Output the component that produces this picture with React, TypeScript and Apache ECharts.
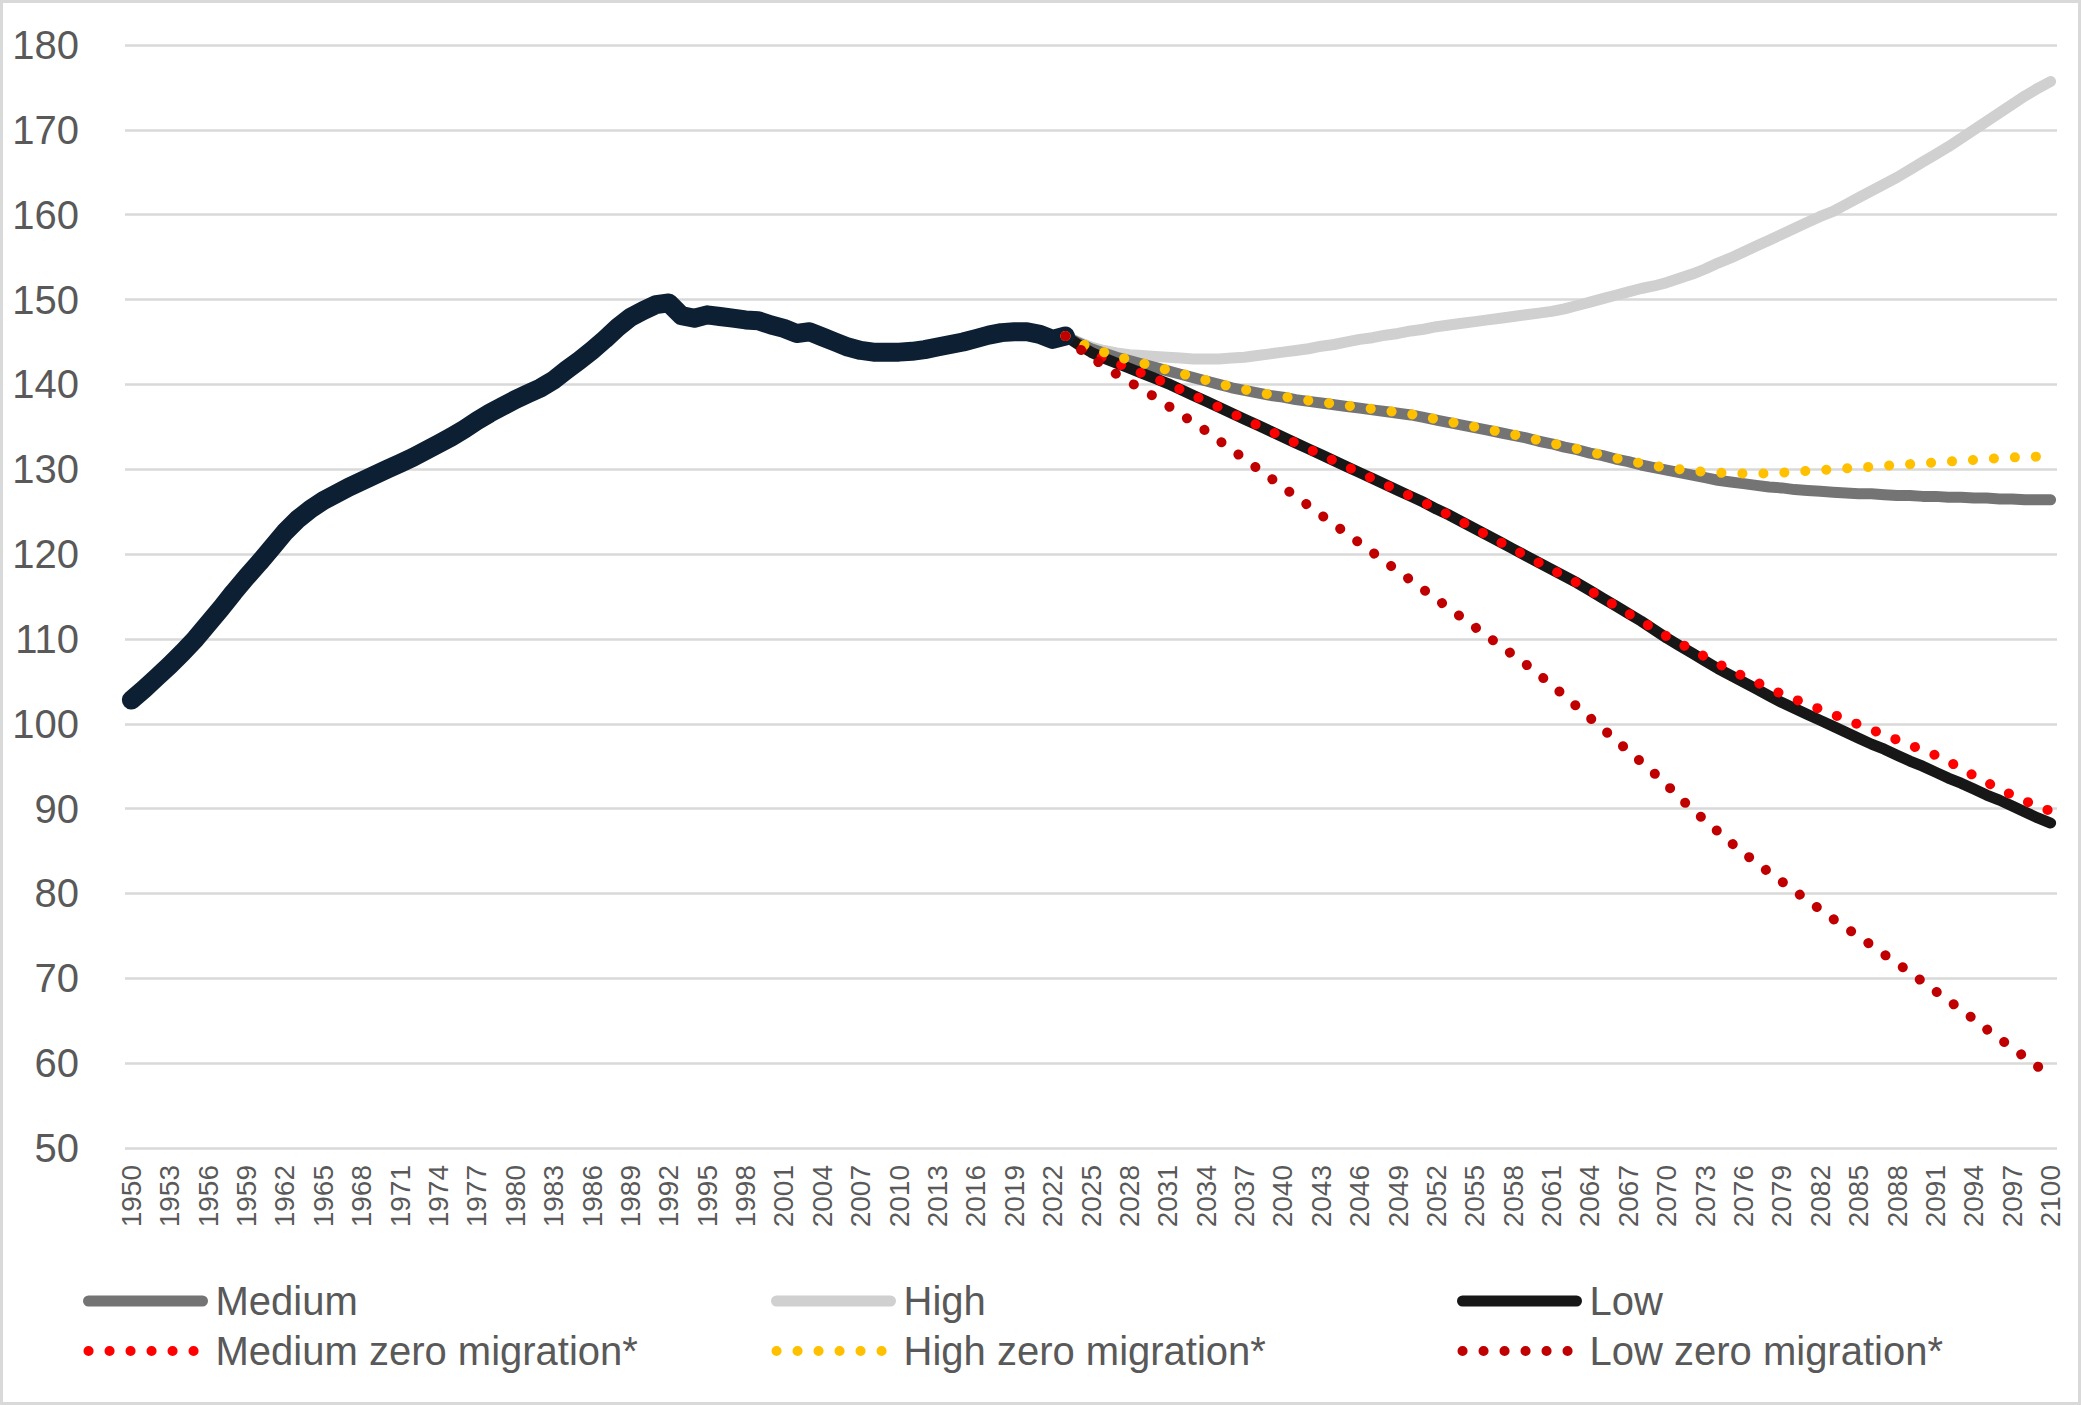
import React, { useEffect, useRef } from "react";
import * as echarts from "echarts";

// Categories: every year from 1950 to 2100
const years: string[] = Array.from({ length: 151 }, (_, i) => String(1950 + i));

// Y-axis ticks
const yMin = 50;
const yMax = 180;
const yStep = 10;

// Estimates 1950–2023
const historicalStart = 1950;
const historical = [
  102.8, 104.1, 105.5, 106.9, 108.4, 110.0, 111.8, 113.6, 115.5, 117.3,
  119.0, 120.8, 122.6, 124.1, 125.3, 126.3, 127.1, 127.9, 128.6, 129.3,
  130.0, 130.7, 131.4, 132.2, 133.0, 133.8, 134.7, 135.7, 136.6, 137.4,
  138.2, 138.9, 139.6, 140.5, 141.7, 142.8, 144.0, 145.3, 146.7, 147.9,
  148.7, 149.4, 149.6, 148.1, 147.8, 148.2, 148.0, 147.8, 147.6, 147.5,
  147.0, 146.6, 146.0, 146.2, 145.6, 145.0, 144.4, 144.0, 143.8, 143.8,
  143.8, 143.9, 144.1, 144.4, 144.7, 145.0, 145.4, 145.8, 146.1, 146.2,
  146.2, 145.9, 145.3, 145.7,
];

// Projections 2023–2100
const projectionStart = 2023;
const medium = [
  145.7, 144.9, 144.2, 143.7, 143.2, 142.8, 142.4, 142.0, 141.6, 141.2,
  140.8, 140.4, 140.0, 139.6, 139.3, 139.0, 138.7, 138.5, 138.2, 138.0,
  137.8, 137.6, 137.4, 137.2, 137.0, 136.8, 136.6, 136.4, 136.1, 135.8,
  135.5, 135.2, 134.9, 134.6, 134.3, 134.0, 133.7, 133.3, 133.0, 132.6,
  132.3, 131.9, 131.6, 131.2, 130.9, 130.5, 130.2, 129.9, 129.6, 129.3,
  129.0, 128.7, 128.5, 128.3, 128.1, 127.9, 127.8, 127.6, 127.5, 127.4,
  127.3, 127.2, 127.1, 127.1, 127.0, 126.9, 126.9, 126.8, 126.8, 126.7,
  126.7, 126.6, 126.6, 126.5, 126.5, 126.4, 126.4, 126.4,
];
const high = [
  145.7, 145.0, 144.4, 144.0, 143.7, 143.5, 143.4, 143.3, 143.2, 143.1,
  143.0, 143.0, 143.0, 143.1, 143.2, 143.4, 143.6, 143.8, 144.0, 144.2,
  144.5, 144.7, 145.0, 145.3, 145.5, 145.8, 146.0, 146.3, 146.5, 146.8,
  147.0, 147.2, 147.4, 147.6, 147.8, 148.0, 148.2, 148.4, 148.6, 148.9,
  149.3, 149.7, 150.1, 150.5, 150.9, 151.3, 151.6, 152.0, 152.5, 153.0,
  153.6, 154.3, 154.9, 155.6, 156.3, 157.0, 157.7, 158.4, 159.1, 159.8,
  160.4, 161.2, 162.0, 162.8, 163.6, 164.4, 165.3, 166.2, 167.1, 168.0,
  169.0, 170.0, 171.0, 172.0, 173.0, 174.0, 174.9, 175.7,
];
const low = [
  145.7, 144.7, 143.8, 143.1, 142.5, 141.9, 141.3, 140.7, 140.1, 139.4,
  138.7, 138.0, 137.3, 136.6, 135.9, 135.2, 134.5, 133.8, 133.1, 132.4,
  131.7, 131.0, 130.3, 129.6, 128.9, 128.2, 127.5, 126.8, 126.1, 125.3,
  124.6, 123.8, 123.0, 122.2, 121.4, 120.6, 119.8, 119.0, 118.2, 117.4,
  116.6, 115.7, 114.8, 113.9, 113.0, 112.1, 111.1, 110.1, 109.2, 108.3,
  107.4, 106.5, 105.7, 104.9, 104.1, 103.3, 102.5, 101.8, 101.1, 100.4,
  99.7, 99.0, 98.3, 97.6, 97.0, 96.3, 95.6, 95.0, 94.3, 93.6,
  93.0, 92.3, 91.6, 91.0, 90.3, 89.6, 88.9, 88.3,
];
const mediumZero = [
  145.7, 144.7, 143.8, 143.1, 142.5, 141.9, 141.3, 140.7, 140.1, 139.4,
  138.7, 138.0, 137.3, 136.6, 135.9, 135.2, 134.5, 133.8, 133.1, 132.4,
  131.7, 131.0, 130.3, 129.6, 128.9, 128.2, 127.5, 126.8, 126.1, 125.3,
  124.6, 123.8, 123.0, 122.2, 121.4, 120.6, 119.8, 119.0, 118.2, 117.4,
  116.6, 115.7, 114.8, 113.9, 113.0, 112.1, 111.2, 110.3, 109.5, 108.7,
  107.9, 107.1, 106.3, 105.6, 104.9, 104.2, 103.5, 102.9, 102.3, 101.7,
  101.1, 100.5, 99.9, 99.3, 98.7, 98.1, 97.5, 96.9, 96.3, 95.6,
  94.7, 93.9, 93.1, 92.3, 91.6, 90.9, 90.3, 89.7,
];
const highZero = [
  145.7, 145.0, 144.3, 143.8, 143.3, 142.9, 142.5, 142.1, 141.7, 141.3,
  140.9, 140.5, 140.1, 139.7, 139.4, 139.1, 138.8, 138.6, 138.3, 138.1,
  137.9, 137.7, 137.5, 137.3, 137.1, 136.9, 136.7, 136.5, 136.2, 135.9,
  135.6, 135.3, 135.0, 134.7, 134.4, 134.1, 133.8, 133.4, 133.1, 132.7,
  132.4, 132.0, 131.7, 131.3, 131.0, 130.7, 130.4, 130.2, 130.0, 129.8,
  129.7, 129.6, 129.5, 129.5, 129.5, 129.5, 129.6, 129.7, 129.8, 129.9,
  130.0, 130.1, 130.2, 130.3, 130.4, 130.5, 130.6, 130.7, 130.8, 130.9,
  131.0, 131.1, 131.2, 131.3, 131.4, 131.4, 131.5, 131.6,
];
const lowZero = [
  145.7, 144.3, 143.2, 142.2, 141.2, 140.3, 139.4, 138.5, 137.5, 136.5,
  135.5, 134.5, 133.4, 132.3, 131.2, 130.1, 129.0, 127.9, 126.8, 125.7,
  124.6, 123.5, 122.4, 121.3, 120.2, 119.1, 118.0, 116.9, 115.8, 114.7,
  113.6, 112.5, 111.4, 110.3, 109.2, 108.1, 107.0, 105.8, 104.6, 103.3,
  102.0, 100.7, 99.4, 98.1, 96.8, 95.5, 94.2, 92.8, 91.3, 89.9,
  88.6, 87.3, 86.0, 84.8, 83.6, 82.5, 81.4, 80.3, 79.2, 78.1,
  77.0, 76.0, 74.9, 73.9, 72.8, 71.8, 70.7, 69.6, 68.5, 67.4,
  66.3, 65.2, 64.0, 62.9, 61.8, 60.7, 59.6, 58.6,
];

const FONT = '"Liberation Sans", Arial, "DejaVu Sans", sans-serif';
const TEXT = "#595959";
const DOTS = [0.1, 20.9];

function pad(start: number, arr: number[]): (number | null)[] {
  const off = start - 1950;
  return years.map((_, i) => {
    const j = i - off;
    return j >= 0 && j < arr.length ? arr[j] : null;
  });
}

function lineSeries(name: string, start: number, arr: number[], color: string, width: number, dotted: boolean) {
  return {
    name,
    type: "line",
    data: pad(start, arr),
    symbol: "none",
    showSymbol: false,
    connectNulls: false,
    smooth: false,
    lineStyle: {
      color,
      width,
      type: dotted ? DOTS : "solid",
      cap: "round",
      join: "round",
    },
    itemStyle: { color },
    emphasis: { disabled: true },
  };
}

function legendCol(left: number, names: string[]) {
  return {
    show: true,
    orient: "vertical",
    left,
    top: 1281,
    padding: 0,
    itemWidth: 114,
    itemHeight: 40,
    itemGap: 10,
    selectedMode: false,
    data: names,
    itemStyle: { opacity: 0 },
    lineStyle: { width: "inherit", type: "inherit", cap: "round" },
    textStyle: {
      color: TEXT,
      fontSize: 40,
      fontFamily: FONT,
      lineHeight: 40,
      padding: [0, 0, 0, 8],
    },
  };
}

export default function App() {
  const ref = useRef<HTMLDivElement>(null);
  useEffect(() => {
    if (!ref.current) return;
    const chart = echarts.init(ref.current, null, { renderer: "svg" });
    chart.setOption({
      animation: false,
      backgroundColor: "#ffffff",
      textStyle: { fontFamily: FONT },
      grid: { left: 125, right: 24, top: 45, bottom: 257, containLabel: false },
      xAxis: {
        type: "category",
        data: years,
        boundaryGap: true,
        axisLine: { show: false },
        axisTick: { show: false },
        axisLabel: {
          interval: 2,
          rotate: 90,
          fontSize: 28,
          color: TEXT,
          fontFamily: FONT,
          margin: 17,
        },
        splitLine: { show: false },
      },
      yAxis: {
        type: "value",
        min: yMin,
        max: yMax,
        interval: yStep,
        axisLine: { show: false },
        axisTick: { show: false },
        axisLabel: { fontSize: 40, color: TEXT, fontFamily: FONT, margin: 46 },
        splitLine: { lineStyle: { color: "#d9d9d9", width: 2.5 } },
      },
      legend: [
        legendCol(83, ["Medium", "Medium zero migration*"]),
        legendCol(771, ["High", "High zero migration*"]),
        legendCol(1457, ["Low", "Low zero migration*"]),
      ],
      graphic: [
        {
          type: "rect",
          silent: true,
          z: -10,
          shape: { x: 1.5, y: 1.5, width: 2078, height: 1402 },
          style: { fill: "none", stroke: "#d9d9d9", lineWidth: 3 },
        },
      ],
      series: [
        lineSeries("High", projectionStart, high, "#d0d0d0", 11, false),
        lineSeries("Medium", projectionStart, medium, "#747474", 11, false),
        lineSeries("Low", projectionStart, low, "#171717", 11, false),
        lineSeries("Estimates", historicalStart, historical, "#0d1f33", 19, false),
        lineSeries("Medium zero migration*", projectionStart, mediumZero, "#ff0000", 10, true),
        lineSeries("High zero migration*", projectionStart, highZero, "#ffc000", 10, true),
        lineSeries("Low zero migration*", projectionStart, lowZero, "#c00000", 10, true),
      ],
    });
    return () => chart.dispose();
  }, []);
  return (
    <div
      ref={ref}
      style={{ position: "fixed", left: 0, top: 0, width: 2081, height: 1405, background: "#fff" }}
    />
  );
}
